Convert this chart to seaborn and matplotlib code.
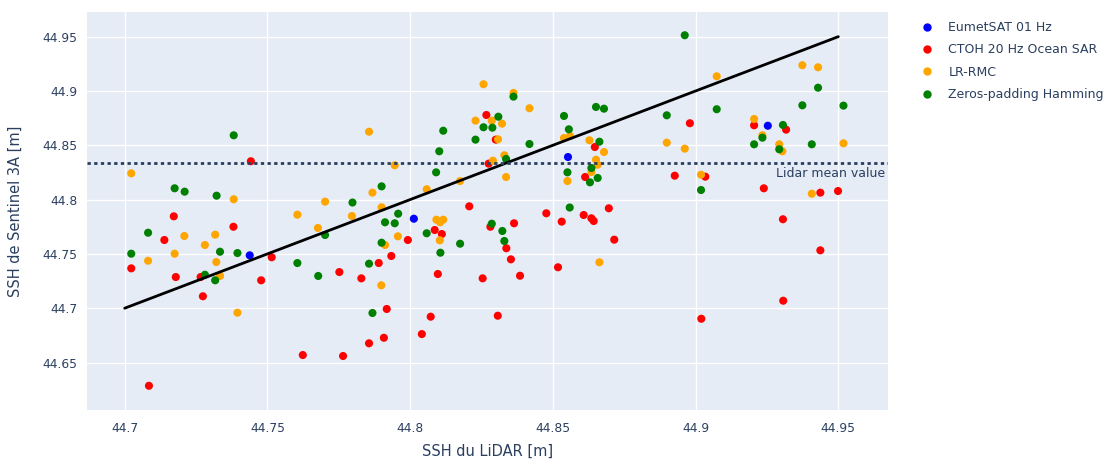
import numpy as np
import pandas as pd
import matplotlib
matplotlib.use("Agg")
import matplotlib.pyplot as plt
import seaborn as sns
from matplotlib.ticker import FuncFormatter
from matplotlib.lines import Line2D

# ---------------- data ----------------
series_names = ["EumetSAT 01 Hz", "CTOH 20 Hz Ocean SAR", "LR-RMC", "Zeros-padding Hamming"]
series_colors = ["blue", "red", "orange", "green"]

eumet_x = [44.7438, 44.8013, 44.8553, 44.9253]
eumet_y = [44.7487, 44.7824, 44.8392, 44.8680]

ctoh_x = [44.7442, 44.7172, 44.7381, 44.7139, 44.7515, 44.7023, 44.7179, 44.7266, 44.7478, 44.7752,
          44.7829, 44.7274, 44.7624, 44.7765, 44.7085, 44.8267, 44.8300, 44.8647, 44.8275, 44.8613,
          44.8207, 44.8696, 44.8477, 44.8531, 44.8608, 44.8635, 44.8643, 44.8086, 44.8111, 44.8281,
          44.8364, 44.8337, 44.8353, 44.8385, 44.7992, 44.7934, 44.7890, 44.8097, 44.8254, 44.8518,
          44.8715, 44.7918, 44.8072, 44.8307, 44.8041, 44.7908, 44.7856, 44.8980, 44.9205, 44.9317,
          44.8927, 44.9034, 44.9239, 44.9437, 44.9499, 44.9306, 44.9437, 44.9307, 44.9020]
ctoh_y = [44.8353, 44.7846, 44.7750, 44.7628, 44.7469, 44.7367, 44.7287, 44.7287, 44.7257, 44.7333,
          44.7275, 44.7110, 44.6569, 44.6560, 44.6286, 44.8779, 44.8552, 44.8484, 44.8331, 44.8208,
          44.7938, 44.7920, 44.7874, 44.7797, 44.7858, 44.7828, 44.7803, 44.7720, 44.7683, 44.7750,
          44.7782, 44.7552, 44.7450, 44.7299, 44.7628, 44.7481, 44.7416, 44.7315, 44.7275, 44.7377,
          44.7631, 44.6993, 44.6922, 44.6931, 44.6762, 44.6728, 44.6677, 44.8703, 44.8684, 44.8644,
          44.8220, 44.8211, 44.8104, 44.8064, 44.8079, 44.7819, 44.7533, 44.7069, 44.6903]

lrrmc_x = [44.7023, 44.7382, 44.7702, 44.7605, 44.7796, 44.7209, 44.7317, 44.7281, 44.7677, 44.7175,
           44.7082, 44.7321, 44.7334, 44.7395, 44.8257, 44.8362, 44.8418, 44.7856, 44.8229, 44.8286,
           44.8322, 44.8308, 44.8539, 44.8560, 44.8628, 44.8679, 44.7946, 44.8290, 44.8330, 44.8651,
           44.8657, 44.8635, 44.8336, 44.8551, 44.8175, 44.7868, 44.8058, 44.7900, 44.8092, 44.8116,
           44.8105, 44.7957, 44.7912, 44.8104, 44.7899, 44.8663, 44.9074, 44.9374, 44.9429, 44.9205,
           44.9234, 44.8899, 44.8962, 44.9293, 44.9304, 44.9518, 44.9019, 44.9407]
lrrmc_y = [44.8242, 44.8003, 44.7981, 44.7861, 44.7849, 44.7665, 44.7677, 44.7582, 44.7739, 44.7502,
           44.7437, 44.7425, 44.7297, 44.6959, 44.9062, 44.8982, 44.8841, 44.8625, 44.8727, 44.8727,
           44.8699, 44.8555, 44.8567, 44.8586, 44.8546, 44.8438, 44.8316, 44.8358, 44.8408, 44.8367,
           44.8321, 44.8254, 44.8208, 44.8171, 44.8171, 44.8064, 44.8095, 44.7929, 44.7815, 44.7815,
           44.7791, 44.7662, 44.7582, 44.7625, 44.7211, 44.7423, 44.9135, 44.9237, 44.9218, 44.8742,
           44.8592, 44.8524, 44.8469, 44.8509, 44.8445, 44.8518, 44.8229, 44.8054]

zeros_x = [44.7382, 44.7175, 44.7210, 44.7322, 44.7798, 44.7082, 44.7702, 44.7023, 44.7334, 44.7395,
           44.7605, 44.7281, 44.7317, 44.7678, 44.8362, 44.8539, 44.8651, 44.8679, 44.8116, 44.8309,
           44.8257, 44.8288, 44.8229, 44.8418, 44.8556, 44.8663, 44.8102, 44.8336, 44.8635, 44.8091,
           44.8551, 44.8630, 44.8657, 44.7900, 44.8559, 44.7958, 44.7912, 44.7946, 44.8058, 44.8286,
           44.8323, 44.8330, 44.7900, 44.8106, 44.8175, 44.7856, 44.7868, 44.8962, 44.9429, 44.9374,
           44.9518, 44.9074, 44.8899, 44.9306, 44.9234, 44.9205, 44.9293, 44.9407, 44.9019]
zeros_y = [44.8592, 44.8104, 44.8073, 44.8036, 44.7973, 44.7695, 44.7674, 44.7502, 44.7520, 44.7508,
           44.7416, 44.7308, 44.7257, 44.7297, 44.8948, 44.8770, 44.8853, 44.8837, 44.8634, 44.8763,
           44.8666, 44.8662, 44.8552, 44.8512, 44.8647, 44.8533, 44.8445, 44.8374, 44.8291, 44.8251,
           44.8251, 44.8159, 44.8199, 44.8122, 44.7927, 44.7870, 44.7791, 44.7782, 44.7690, 44.7778,
           44.7711, 44.7619, 44.7603, 44.7511, 44.7594, 44.7410, 44.6956, 44.9513, 44.9030, 44.8868,
           44.8865, 44.8832, 44.8776, 44.8687, 44.8570, 44.8509, 44.8463, 44.8509, 44.8088]

identity_x = [44.70, 44.95]
identity_y = [44.70, 44.95]
lidar_mean = 44.834
lidar_label = "Lidar mean value"

x_ticks = [44.70, 44.75, 44.80, 44.85, 44.90, 44.95]
y_ticks = [44.65, 44.70, 44.75, 44.80, 44.85, 44.90, 44.95]
x_label = "SSH du LiDAR [m]"
y_label = "SSH de Sentinel 3A [m]"

# ---------------- build frame ----------------
frames = []
for name, xs, ys in zip(series_names,
                        [eumet_x, ctoh_x, lrrmc_x, zeros_x],
                        [eumet_y, ctoh_y, lrrmc_y, zeros_y]):
    frames.append(pd.DataFrame({"x": xs, "y": ys, "serie": name}))
df = pd.concat(frames, ignore_index=True)

# ---------------- style ----------------
sns.set_theme(style="darkgrid")
plt.rcParams["font.family"] = ["DejaVu Sans"]
txt_color = "#2a3f5f"
bg = "#E5ECF6"

fig = plt.figure(figsize=(11.12, 4.63), dpi=100)
ax = fig.add_axes([87 / 1112, 1 - 410 / 463, (888 - 87) / 1112, (410 - 12) / 463])
ax.set_facecolor(bg)

sns.scatterplot(data=df, x="x", y="y", hue="serie", hue_order=series_names,
                palette=dict(zip(series_names, series_colors)),
                s=34, linewidth=0, edgecolor="none", ax=ax, legend=False, zorder=3)

sns.lineplot(x=identity_x, y=identity_y, color="black", linewidth=2, ax=ax, zorder=4)
ax.axhline(lidar_mean, color=txt_color, linestyle=(0, (1.2, 1.2)), linewidth=2, zorder=4)
ax.annotate(lidar_label, xy=(1, lidar_mean), xycoords=("axes fraction", "data"),
            xytext=(-3, -4), textcoords="offset pixels", ha="right", va="top",
            fontsize=9, color=txt_color)

ax.set_xlim(44.6868, 44.9674)
ax.set_ylim(44.6063, 44.9727)
ax.set_xticks(x_ticks)
ax.set_yticks(y_ticks)
fmt = FuncFormatter(lambda v, p: f"{v:g}")
ax.xaxis.set_major_formatter(fmt)
ax.yaxis.set_major_formatter(fmt)
ax.grid(True, color="white", linewidth=1)
ax.set_axisbelow(True)
for s in ax.spines.values():
    s.set_visible(False)
ax.tick_params(axis="both", length=0, labelsize=8.8, colors=txt_color)
ax.tick_params(axis="x", pad=9)
ax.tick_params(axis="y", pad=7)
ax.set_xlabel(x_label, fontsize=10.5, color=txt_color, labelpad=6)
ax.set_ylabel(y_label, fontsize=10.5, color=txt_color, labelpad=14)

handles = [Line2D([0], [0], marker="o", linestyle="", markersize=5,
                  markerfacecolor=c, markeredgecolor=c) for c in series_colors]
fig.legend(handles, series_names, loc="upper left", bbox_to_anchor=(921 / 1112, 1 - 21 / 463),
           frameon=False, fontsize=9, labelcolor=txt_color, handlelength=1.0,
           handletextpad=1.2, labelspacing=0.75, borderaxespad=0, borderpad=0)

fig.savefig("out.png", dpi=100, facecolor="white")
